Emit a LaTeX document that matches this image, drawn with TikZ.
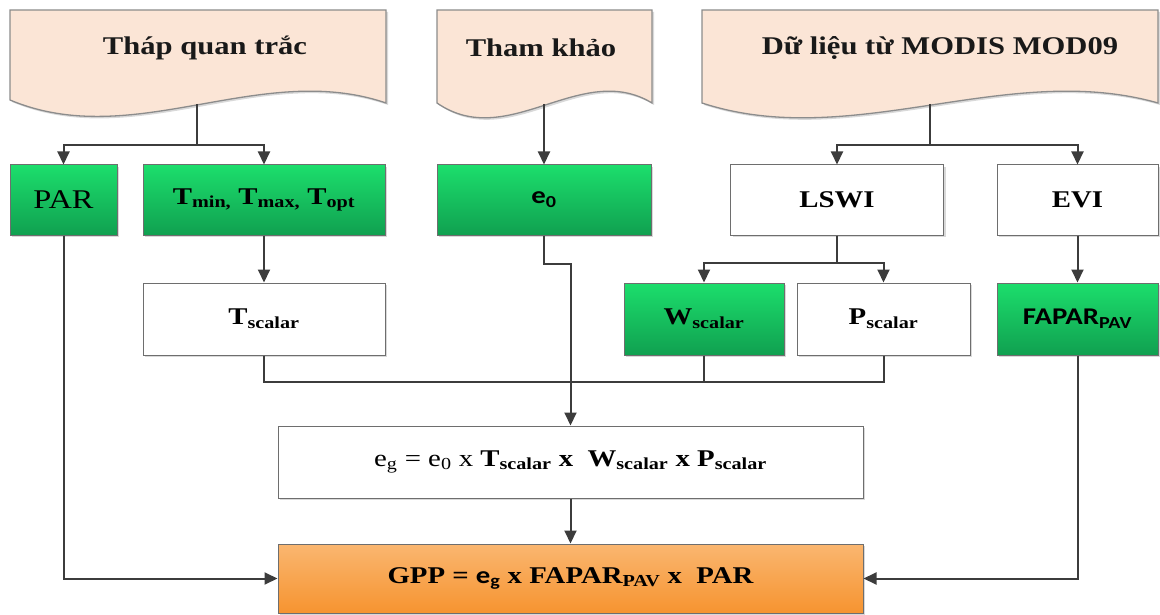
\documentclass[tikz,border=0pt]{standalone}
\usepackage{fontspec}
\setmainfont{Liberation Serif}[FakeStretch=1.2]
\newfontfamily\carl{Carlito}[FakeStretch=1.2]
\usetikzlibrary{arrows.meta,shadows}
\definecolor{docfill}{RGB}{251,229,214}
\definecolor{docline}{RGB}{140,140,140}
\definecolor{gtop}{RGB}{28,222,108}
\definecolor{gbot}{RGB}{16,160,80}
\definecolor{otop}{RGB}{250,182,112}
\definecolor{obot}{RGB}{246,148,48}
\definecolor{boxline}{RGB}{110,110,110}
\definecolor{arrcol}{RGB}{60,60,60}
\begin{document}
\begin{tikzpicture}[x=1pt,y=-1pt,
  shade/.style={drop shadow={opacity=0.3,shadow xshift=2pt,shadow yshift=-2pt}},
  box/.style={draw=boxline,line width=1pt,inner sep=0pt,shade,
    font=\fontsize{24}{28}\selectfont},
  gbox/.style={box,top color=gtop,bottom color=gbot},
  wbox/.style={box,fill=white},
  obox/.style={box,top color=otop,bottom color=obot},
  doc/.style={draw=docline,line width=1.3pt,fill=docfill,shade},
  doctext/.style={font=\fontsize{25.5}{30}\selectfont\bfseries,text=black!90},
  arr/.style={draw=arrcol,line width=2pt,-{Triangle[length=13pt,width=12pt]}},
  ln/.style={draw=arrcol,line width=2pt}]
\useasboundingbox (0,0) rectangle (1160,615);
% documents
\path[doc] (10,10) -- (386,10) -- (386,103) .. controls (260,60) and (134,152) .. (10,100) -- cycle;
\path[doc] (437,10) -- (652,10) -- (652,103) .. controls (581,60) and (508,152) .. (437,103) -- cycle;
\path[doc] (702,10) -- (1158,10) -- (1158,103) .. controls (1007,60) and (852,152) .. (702,103) -- cycle;
\node[doctext] (d1) at (205,48) {Tháp quan trắc};
\node[doctext] (d2) at (541,48) {Tham khảo};
\node[doctext] (d3) at (940,48) {Dữ liệu từ MODIS MOD09};
\coordinate (d1b) at (197,104);
\coordinate (d2b) at (544,104);
\coordinate (d3b) at (930,104);
% row 1
\node[gbox,minimum width=107pt,minimum height=70pt,font=\fontsize{27}{30}\selectfont] (par) at (63.5,200) {PAR};
\node[gbox,minimum width=242pt,minimum height=70pt] (tmin) at (264,200)
  {\bfseries T\textsubscript{min,} T\textsubscript{max,} T\textsubscript{opt}};
\node[gbox,minimum width=214pt,minimum height=70pt] (e0) at (544,200)
  {\carl\bfseries e\textsubscript{0}};
\node[wbox,minimum width=213pt,minimum height=70pt] (lswi) at (837,200) {\bfseries LSWI};
\node[wbox,minimum width=161pt,minimum height=70pt] (evi) at (1077.5,200) {\bfseries EVI};
% row 2
\node[wbox,minimum width=242pt,minimum height=72pt] (tsc) at (264,319)
  {\bfseries T\textsubscript{scalar}};
\node[gbox,minimum width=160pt,minimum height=72pt] (wsc) at (704,319)
  {\bfseries W\textsubscript{scalar}};
\node[wbox,minimum width=173pt,minimum height=72pt] (psc) at (883.5,319)
  {\bfseries P\textsubscript{scalar}};
\node[gbox,minimum width=161pt,minimum height=72pt] (fap) at (1077.5,319)
  {\carl\bfseries FAPAR\textsubscript{PAV}};
% formulas
\node[wbox,minimum width=585pt,minimum height=72pt] (eg) at (570.5,462)
  {e\textsubscript{g} = e\textsubscript{0} x \textbf{T\textsubscript{scalar} x\ \ W\textsubscript{scalar} x P\textsubscript{scalar}}};
\node[obox,minimum width=585pt,minimum height=69pt] (gpp) at (570.5,578.5)
  {\bfseries GPP = {\carl e\textsubscript{g}} x FAPAR\textsubscript{PAV} x\ \ PAR};
% connectors
\coordinate (j1) at (197,145);
\coordinate (j3) at (930,145);
\coordinate (j5) at (837,263);
\coordinate (bus) at (0,382);
\draw[ln] (d1b) -- (j1);
\draw[arr] (j1) -| (par.north);
\draw[arr] (j1) -| (tmin.north);
\draw[arr] (d2b) -- (e0.north);
\draw[ln] (d3b) -- (j3);
\draw[arr] (j3) -| (lswi.north);
\draw[arr] (j3) -| (evi.north);
\draw[arr] (tmin.south) -- (tsc.north);
\draw[ln] (lswi.south) -- (j5);
\draw[arr] (j5) -| (wsc.north);
\draw[arr] (j5) -| (psc.north);
\draw[arr] (evi.south) -- (fap.north);
\draw[arr] (e0.south) -- ++(0,28) -| (eg.north);
\draw[ln] (tsc.south) -- (tsc.south |- bus) -- (psc.south |- bus) -- (psc.south);
\draw[ln] (wsc.south) -- (wsc.south |- bus);
\draw[arr] (eg.south) -- (gpp.north);
\draw[arr] (par.south) |- (gpp.west);
\draw[arr] (fap.south) |- (gpp.east);
\end{tikzpicture}
\end{document}
